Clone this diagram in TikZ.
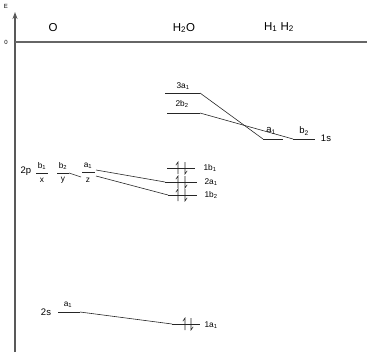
\documentclass[tikz,border=0pt]{standalone}
\usepackage{fontspec}
\setmainfont{Liberation Sans}
\usetikzlibrary{arrows.meta}
\newcommand{\epair}[3]{%
  \draw[el] (#1,#3) ++(0,6) -- ++(0,-12) -- ++(-2.2,3.2);
  \draw[el] (#2,#3) ++(0,-6) -- ++(0,12) -- ++(2.2,-3.2);}
\begin{document}
\begin{tikzpicture}[x=1pt,y=-1pt,
  lvl/.style={line width=0.7pt, black!85},
  conn/.style={line width=0.6pt, black!85},
  el/.style={line width=0.55pt, black!85},
  big/.style={font=\fontsize{11.5}{12}\selectfont, inner sep=0pt},
  mid/.style={font=\fontsize{9.5}{10}\selectfont, inner sep=0pt},
  sm/.style={font=\fontsize{8.3}{9}\selectfont, inner sep=0pt},
  tiny/.style={font=\fontsize{6}{6}\selectfont, inner sep=0pt}]
\useasboundingbox (0,0) rectangle (370,354);
% axes
\coordinate (ab) at (15,352); \coordinate (at) at (15,12);
\draw[line width=1.8pt, black!65, -{Stealth[length=7pt,width=5pt]}] (ab) -- (at);
\coordinate (zl) at (15,42); \coordinate (zr) at (367,42);
\draw[line width=1.1pt, black!60] (zl) -- (zr);
\node[tiny] (E) at (6,6) {E};
\node[tiny] (zero) at (6,42) {0};
\node[big] (O) at (53,28) {O};
\node[big] (H2O) at (184,28) {H\textsubscript{2}O};
\node[big] (HH) at (279,27) {H\textsubscript{1} H\textsubscript{2}};
% H2O levels
\coordinate (m3aL) at (165,93); \coordinate (m3aR) at (200,93);
\coordinate (m2bL) at (167,113); \coordinate (m2bR) at (200,113);
\coordinate (m1b1L) at (167,168); \coordinate (m1b1R) at (195,168);
\coordinate (m2aL) at (165,182); \coordinate (m2aR) at (197,182);
\coordinate (m1b2L) at (168,195); \coordinate (m1b2R) at (197,195);
\coordinate (m1aL) at (172,324); \coordinate (m1aR) at (200,324);
\foreach \a/\b in {m3aL/m3aR,m2bL/m2bR,m1b1L/m1b1R,m2aL/m2aR,m1b2L/m1b2R,m1aL/m1aR}
  \draw[lvl] (\a) -- (\b);
\node[sm] (l3a) at (183,86) {3a\textsubscript{1}};
\node[sm] (l2b) at (182,104) {2b\textsubscript{2}};
\node[sm] (l1b1) at (210,168) {1b\textsubscript{1}};
\node[sm] (l2a) at (211,182) {2a\textsubscript{1}};
\node[sm] (l1b2) at (211,195) {1b\textsubscript{2}};
\node[sm] (l1a) at (211,325) {1a\textsubscript{1}};
\epair{178}{185}{168}
\epair{178}{185}{182}
\epair{178}{185}{195}
\epair{185}{191}{324}
% H levels
\coordinate (ha1L) at (263,139); \coordinate (ha1R) at (283,139);
\coordinate (hb2L) at (293,139); \coordinate (hb2R) at (315,139);
\draw[lvl] (ha1L) -- (ha1R);
\draw[lvl] (hb2L) -- (hb2R);
\node[mid] (lha1) at (271,131) {a\textsubscript{1}};
\node[mid] (lhb2) at (304,131) {b\textsubscript{2}};
\node[mid] (l1s) at (326,138) {1s};
% O levels
\coordinate (ob1L) at (36,173); \coordinate (ob1R) at (48,173);
\coordinate (ob2L) at (57,173); \coordinate (ob2R) at (69,173);
\coordinate (oa1L) at (82,172); \coordinate (oa1R) at (95,172);
\coordinate (o2sL) at (58,312); \coordinate (o2sR) at (80,312);
\foreach \a/\b in {ob1L/ob1R,ob2L/ob2R,oa1L/oa1R,o2sL/o2sR}
  \draw[lvl] (\a) -- (\b);
\node[mid] (l2p) at (26,171) {2p};
\node[sm] (lob1) at (42,166) {b\textsubscript{1}};
\node[sm] (lx) at (42,180) {x};
\node[sm] (lob2) at (63,166) {b\textsubscript{2}};
\node[sm] (ly) at (63,180) {y};
\node[sm] (loa1) at (88,166) {a\textsubscript{1}};
\node[sm] (lz) at (88,180) {z};
\node[mid] (l2s) at (46,312) {2s};
\node[sm] (lo2s) at (68,305) {a\textsubscript{1}};
% connectors
\coordinate (cA) at (96,170);
\coordinate (cB1) at (81,177);
\coordinate (cB2) at (96,176);
\draw[conn] (m3aR) -- (ha1L);
\draw[conn] (m2bR) -- (hb2L);
\draw[conn] (cA) -- (m2aL);
\draw[conn] (ob2R) -- (cB1);
\draw[conn] (cB2) -- (m1b2L);
\draw[conn] (o2sR) -- (m1aL);
\end{tikzpicture}
\end{document}
